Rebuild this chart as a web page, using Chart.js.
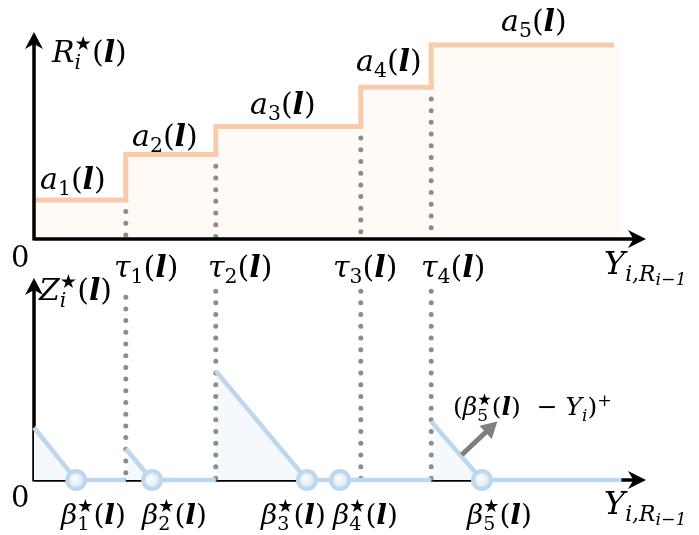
<!DOCTYPE html>
<html><head><meta charset="utf-8">
<script src="https://cdn.jsdelivr.net/npm/chart.js@4/dist/chart.umd.min.js"></script>
<style>
html,body{margin:0;padding:0;background:#fff}
#wrap{position:relative;width:699px;height:535px;overflow:hidden;background:#fff}
canvas{position:absolute;left:0;top:0}
.m{position:absolute;font-family:"DejaVu Serif",serif;font-style:italic;font-size:30px;line-height:1;white-space:nowrap;color:#000}
.m .u{font-style:normal}
.m b{font-weight:bold;font-style:italic}
.m sub{font-size:0.68em;vertical-align:-0.3em;line-height:0}
.m sub sub{font-size:0.8em;vertical-align:-0.25em}
.ss{display:inline-block;vertical-align:-0.35em;line-height:0.95;font-size:0.68em;text-align:left}
.st{font-family:"DejaVu Sans",sans-serif;font-style:normal;font-size:0.95em}
.z{position:absolute;font-family:"DejaVu Serif",serif;font-size:29px;line-height:1;color:#000}
.small{font-size:25px}
.bl{font-size:28px}
</style>
</head><body>
<div id="wrap">
<canvas id="top" width="699" height="535"></canvas>
<canvas id="bot" width="699" height="535"></canvas>

<div class="m" style="left:52px;top:34px">R<span class="ss"><span class="st">★</span><br>i</span><span class="u">(</span><b>l</b><span class="u">)</span></div>
<div class="m" style="left:40px;top:164px">a<sub class="u">1</sub><span class="u">(</span><b>l</b><span class="u">)</span></div>
<div class="m" style="left:132px;top:121px">a<sub class="u">2</sub><span class="u">(</span><b>l</b><span class="u">)</span></div>
<div class="m" style="left:250px;top:89px">a<sub class="u">3</sub><span class="u">(</span><b>l</b><span class="u">)</span></div>
<div class="m" style="left:356px;top:46px">a<sub class="u">4</sub><span class="u">(</span><b>l</b><span class="u">)</span></div>
<div class="m" style="left:501px;top:6px">a<sub class="u">5</sub><span class="u">(</span><b>l</b><span class="u">)</span></div>

<div class="z" style="left:11px;top:243px">0</div>
<div class="z" style="left:11px;top:483px">0</div>

<div class="m" style="left:114px;top:252px">τ<sub class="u">1</sub><span class="u">(</span><b>l</b><span class="u">)</span></div>
<div class="m" style="left:208px;top:252px">τ<sub class="u">2</sub><span class="u">(</span><b>l</b><span class="u">)</span></div>
<div class="m" style="left:333px;top:252px">τ<sub class="u">3</sub><span class="u">(</span><b>l</b><span class="u">)</span></div>
<div class="m" style="left:421px;top:252px">τ<sub class="u">4</sub><span class="u">(</span><b>l</b><span class="u">)</span></div>
<div class="m" style="left:604px;top:247px;font-size:32px">Y<sub>i,R<sub>i−1</sub></sub></div>

<div class="m" style="left:39px;top:272px">Z<span class="ss"><span class="st">★</span><br>i</span><span class="u">(</span><b>l</b><span class="u">)</span></div>

<div class="m bl" style="left:61px;top:496px">β<span class="ss"><span class="st">★</span><br><span class="u">1</span></span><span class="u">(</span><b>l</b><span class="u">)</span></div>
<div class="m bl" style="left:142px;top:496px">β<span class="ss"><span class="st">★</span><br><span class="u">2</span></span><span class="u">(</span><b>l</b><span class="u">)</span></div>
<div class="m bl" style="left:261px;top:496px">β<span class="ss"><span class="st">★</span><br><span class="u">3</span></span><span class="u">(</span><b>l</b><span class="u">)</span></div>
<div class="m bl" style="left:333px;top:496px">β<span class="ss"><span class="st">★</span><br><span class="u">4</span></span><span class="u">(</span><b>l</b><span class="u">)</span></div>
<div class="m bl" style="left:467px;top:496px">β<span class="ss"><span class="st">★</span><br><span class="u">5</span></span><span class="u">(</span><b>l</b><span class="u">)</span></div>
<div class="m" style="left:604px;top:487px;font-size:32px">Y<sub>i,R<sub>i−1</sub></sub></div>

<div class="m small" style="left:453px;top:391px"><span class="u">(</span>β<span class="ss"><span class="st">★</span><br><span class="u">5</span></span><span class="u">(</span><b>l</b><span class="u">)</span> <span class="u">&nbsp;−</span> Y<sub>i</sub><span class="u">)</span><sup class="u" style="font-size:0.7em">+</sup></div>
</div>

<script>
// ---- data (x in units of Y_{i,R_{i-1}}, y in arbitrary units) ----
const tau = [15.0, 29.7, 53.4, 64.9];            // breakpoints tau_1..tau_4
const stepLevels = [18.9, 40.8, 54.4, 73.3, 93.7]; // a_1..a_5
const stepEnd = 94.8;
const stepFillEnd = 96.0;
const beta = [6.9, 19.3, 44.6, 50.0, 73.2];       // beta*_1..beta*_5
const zStart = [26.0, 15.5, 54.0, 0.0, 29.0];     // Z at left edge of each interval
const zEnd = 96.0;
const zGuideTop = [90.5, 93.5, 93.5, 93.5];       // top of dotted guides (lower panel)
const arrowFrom = {x: 69.9, y: 12.5};
const arrowTo = {x: 75.7, y: 29.0};

const ORANGE = '#f8cbad', ORANGE_FILL = '#fffaf6';
const BLUE = '#bdd7ee', BLUE_FILL = '#f5f8fc';
const GREY = '#8c8c8c';

function drawArrowHead(ctx, x, y, ang, len, half) {
  ctx.save();
  ctx.translate(x, y); ctx.rotate(ang);
  ctx.beginPath();
  ctx.moveTo(0, 0);
  ctx.lineTo(-len, -half);
  ctx.lineTo(-len * 0.7, 0);
  ctx.lineTo(-len, half);
  ctx.closePath();
  ctx.fill();
  ctx.restore();
}

const axesPlugin = {
  id: 'axesArrows',
  drawAxes(chart) {
    const {ctx, scales: {x, y}} = chart;
    const x0 = x.getPixelForValue(0), x1 = x.getPixelForValue(x.max);
    const y0 = y.getPixelForValue(0), y1 = y.getPixelForValue(y.max);
    ctx.save();
    ctx.strokeStyle = '#000'; ctx.fillStyle = '#000'; ctx.lineWidth = 3.5;
    ctx.beginPath();
    ctx.moveTo(x0, y0); ctx.lineTo(x1 - 8, y0);
    ctx.moveTo(x0, y0 + 1.5); ctx.lineTo(x0, y1 + 8);
    ctx.stroke();
    drawArrowHead(ctx, x1, y0, 0, 18, 9);
    drawArrowHead(ctx, x0, y1, -Math.PI / 2, 17, 9);
    ctx.restore();
  },
  beforeDatasetsDraw(chart, args, opts) { if (!opts.onTop) this.drawAxes(chart); },
  afterDatasetsDraw(chart, args, opts) {
    if (opts.onTop) this.drawAxes(chart);
    if (opts.arrow) {
      const {ctx, scales: {x, y}} = chart;
      const ax = x.getPixelForValue(opts.arrow.from.x), ay = y.getPixelForValue(opts.arrow.from.y);
      const bx = x.getPixelForValue(opts.arrow.to.x), by = y.getPixelForValue(opts.arrow.to.y);
      const ang = Math.atan2(by - ay, bx - ax);
      ctx.save();
      ctx.strokeStyle = '#7f7f7f'; ctx.fillStyle = '#7f7f7f'; ctx.lineWidth = 5;
      ctx.beginPath();
      ctx.moveTo(ax, ay);
      ctx.lineTo(bx - Math.cos(ang) * 12, by - Math.sin(ang) * 12);
      ctx.stroke();
      ctx.beginPath();
      ctx.translate(bx, by); ctx.rotate(ang);
      ctx.moveTo(0, 0); ctx.lineTo(-16, -9); ctx.lineTo(-16, 9); ctx.closePath();
      ctx.fill();
      ctx.restore();
    }
  }
};

function makeScales() {
  return {
    x: {type: 'linear', min: 0, max: 100, display: false},
    y: {type: 'linear', min: 0, max: 100, display: false}
  };
}

// ---------- upper panel ----------
const stepPts = [{x: 0, y: stepLevels[0]}];
tau.forEach((t, i) => stepPts.push({x: t, y: stepLevels[i + 1]}));
const stepFillPts = stepPts.concat([{x: stepFillEnd, y: stepLevels[4]}]);
stepPts.push({x: stepEnd, y: stepLevels[4]});

// lower "order" = drawn later (on top)
const topDatasets = [
  {data: stepFillPts, order: 10, stepped: true, fill: 'origin', backgroundColor: ORANGE_FILL,
   borderWidth: 0, borderColor: 'rgba(0,0,0,0)', pointRadius: 0, clip: false},
];
tau.forEach((t, i) => topDatasets.push({
  data: [{x: t, y: stepLevels[i]}, {x: t, y: 0}], order: 5,
  borderColor: GREY, borderWidth: 5, borderDash: [0, 11.7], borderCapStyle: 'round',
  pointRadius: 0, fill: false, clip: false
}));
topDatasets.push({data: stepPts, order: 1, stepped: true, fill: false, borderColor: ORANGE,
  borderWidth: 5, pointRadius: 0, clip: false, borderJoinStyle: 'miter'});

new Chart(document.getElementById('top'), {
  type: 'line',
  data: {datasets: topDatasets},
  options: {
    responsive: false, animation: false, events: [],
    layout: {padding: {left: 34, right: 53, top: 32, bottom: 296}},
    scales: makeScales(),
    plugins: {legend: {display: false}, tooltip: {enabled: false}, axesArrows: {onTop: true}}
  },
  plugins: [axesPlugin]
});

// ---------- lower panel ----------
const zPts = [];
const starts = [0].concat(tau);
const ends = tau.concat([zEnd]);
for (let k = 0; k < 5; k++) {
  if (zStart[k] > 0) {
    if (zPts.length) zPts.push({x: starts[k], y: null});
    zPts.push({x: starts[k], y: zStart[k]});
    zPts.push({x: beta[k], y: 0});
  } else {
    zPts.push({x: starts[k], y: 0});
  }
  zPts.push({x: ends[k], y: 0});
}

function circleFill(c) {
  const ch = c.chart;
  try {
    if (!c.parsed || !ch.scales || !ch.scales.x) return '#eef3f9';
    const px = ch.scales.x.getPixelForValue(c.parsed.x);
    const py = ch.scales.y.getPixelForValue(c.parsed.y);
    if (!Number.isFinite(px) || !Number.isFinite(py)) return '#eef3f9';
    const g = ch.ctx.createRadialGradient(px - 2, py - 2, 0, px, py, 9);
    g.addColorStop(0, '#ffffff');
    g.addColorStop(1, '#d6e4f2');
    return g;
  } catch (e) { return '#eef3f9'; }
}

const botDatasets = [];
botDatasets.push({data: zPts, order: 10, spanGaps: false, fill: 'origin', backgroundColor: BLUE_FILL,
  borderColor: 'rgba(0,0,0,0)', borderWidth: 0, pointRadius: 0, clip: false});
tau.forEach((t, i) => botDatasets.push({
  data: [{x: t, y: zGuideTop[i]}, {x: t, y: 0}], order: 5,
  borderColor: GREY, borderWidth: 5, borderDash: [0, 11.7], borderCapStyle: 'round',
  pointRadius: 0, fill: false, clip: false
}));
botDatasets.push({data: zPts, order: 2, spanGaps: false, fill: false,
  borderColor: BLUE, borderWidth: 4.5, pointRadius: 0, clip: false});
botDatasets.push({data: beta.map(b => ({x: b, y: 0})), order: 1, showLine: false, pointStyle: 'circle',
  pointRadius: 9, pointBorderWidth: 4, pointBorderColor: BLUE,
  pointBackgroundColor: circleFill, clip: false});

new Chart(document.getElementById('bot'), {
  type: 'line',
  data: {datasets: botDatasets},
  options: {
    responsive: false, animation: false, events: [],
    layout: {padding: {left: 34, right: 53, top: 278, bottom: 55}},
    scales: makeScales(),
    plugins: {legend: {display: false}, tooltip: {enabled: false},
      axesArrows: {onTop: false, arrow: {from: arrowFrom, to: arrowTo}}}
  },
  plugins: [axesPlugin]
});
</script>
</body></html>
